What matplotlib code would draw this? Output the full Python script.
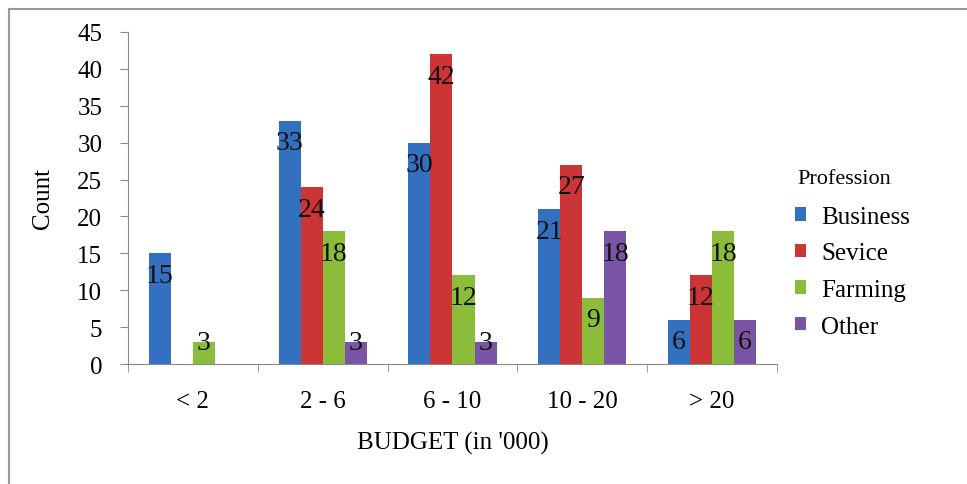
import matplotlib
matplotlib.use("Agg")
import matplotlib.pyplot as plt
from matplotlib.lines import Line2D
import numpy as np

plt.rcParams['font.family'] = ['Liberation Serif', 'DejaVu Serif']

categories = ["< 2", "2 - 6", "6 - 10", "10 - 20", "> 20"]
series = ["Business", "Sevice", "Farming", "Other"]
business = [15, 33, 30, 21, 6]
sevice = [0, 24, 42, 27, 12]
farming = [3, 18, 12, 9, 18]
other = [0, 3, 3, 18, 6]
colors = ["#3470C0", "#CC3535", "#8CBD3A", "#7B55A5"]

values = [business, sevice, farming, other]

fig = plt.figure(figsize=(9.67, 4.85), dpi=100)
ax = fig.add_axes([0.1324, 0.2474, 0.671, 0.6846])

x = np.arange(len(categories))
w = 0.17
for i, (navn, data, farge) in enumerate(zip(series, values, colors)):
    pos = x + (i - 1.5) * w
    ax.bar(pos, data, w, color=farge, label=navn, zorder=2)
    for p, v in zip(pos, data):
        if v > 0:  # tomme kategorier får ingen etikett
            ax.text(p, max(v - 3.0, 2.9), str(v), ha="center", va="center",
                    fontsize=20, color="#111111", zorder=3)

ax.set_xlim(-0.5, len(categories) - 0.5)
ax.set_ylim(0, 45)
ax.set_yticks(range(0, 46, 5))
ax.tick_params(axis="y", labelsize=18, length=6, pad=12.5, color="#888888")
ax.set_xticks(x)
ax.set_xticklabels(categories)
ax.tick_params(axis="x", labelsize=18, length=0, pad=19)
ax.set_xticks(np.arange(-0.5, len(categories), 1), minor=True)
ax.tick_params(axis="x", which="minor", length=6, color="#888888")

for s in ["top", "right"]:
    ax.spines[s].set_visible(False)
for s in ["left", "bottom"]:
    ax.spines[s].set_color("#888888")

ax.set_xlabel("BUDGET (in '000)", fontsize=18, labelpad=13)
ax.set_ylabel("Count", fontsize=18, labelpad=17)

# legendetittel som egen tekst for å styre avstanden
fig.text(0.825, 1 - 179 / 485, "Profession", fontsize=16, va="center", ha="left")
leg = ax.legend(loc="upper left", bbox_to_anchor=(0.822, 1 - 207 / 485),
                bbox_transform=fig.transFigure, frameon=False, fontsize=18,
                handlelength=0.45, handleheight=0.45,
                handletextpad=0.6, labelspacing=0.58, borderpad=0, borderaxespad=0)

# ramme rundt figuren (bare topp og venstre synlig)
fig.add_artist(Line2D([0.0095, 1.0], [0.979, 0.979], color="#999999", lw=1.5))
fig.add_artist(Line2D([0.0095, 0.0095], [0.0, 0.979], color="#999999", lw=1.5))

fig.savefig("out.png", dpi=100)
